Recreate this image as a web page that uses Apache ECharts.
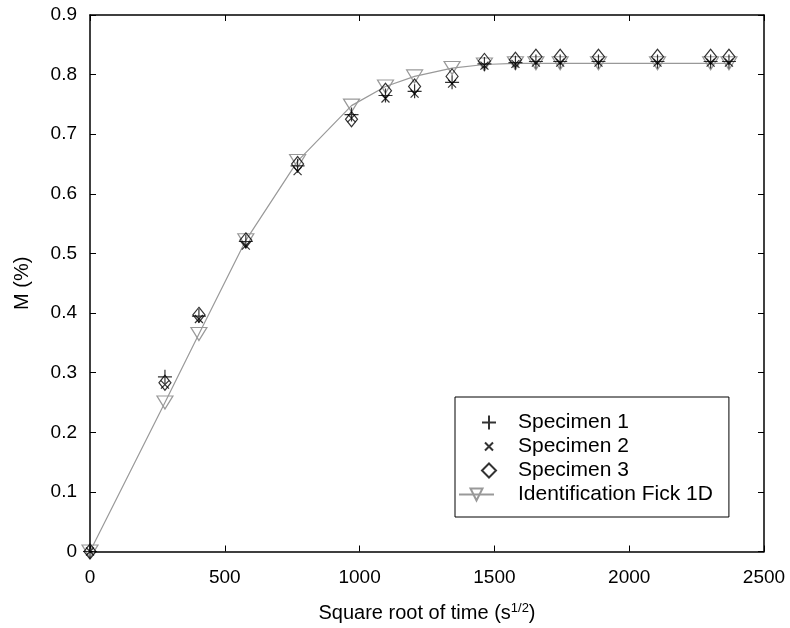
<!DOCTYPE html>
<html>
<head>
<meta charset="utf-8">
<script src="https://cdn.jsdelivr.net/npm/echarts@6/dist/echarts.min.js"></script>
<style>
html,body{margin:0;padding:0;background:#fff;}
#c{width:790px;height:628px;}
</style>
</head>
<body>
<div id="c"></div>
<script>
var xValues = [0, 278, 404, 578, 770, 970, 1096, 1204, 1343, 1463, 1578, 1654, 1744, 1886, 2105, 2302, 2370];
var specimen1 = [0, 0.293, 0.395, 0.52, 0.647, 0.733, 0.765, 0.772, 0.787, 0.818, 0.82, 0.822, 0.822, 0.822, 0.822, 0.822, 0.822];
var specimen2 = [0, 0.28, 0.39, 0.513, 0.638, 0.727, 0.76, 0.768, 0.785, 0.815, 0.818, 0.82, 0.82, 0.82, 0.82, 0.82, 0.82];
var specimen3 = [0, 0.283, 0.397, 0.522, 0.65, 0.725, 0.773, 0.78, 0.797, 0.823, 0.825, 0.83, 0.83, 0.83, 0.83, 0.83, 0.83];
var fick1D = [0, 0.25, 0.365, 0.522, 0.655, 0.748, 0.78, 0.797, 0.811, 0.817, 0.819, 0.819, 0.819, 0.819, 0.819, 0.819, 0.819];
var seriesNames = ['Specimen 1', 'Specimen 2', 'Specimen 3', 'Identification Fick 1D'];

function pairs(ys) { return xValues.map(function (x, i) { return [x, ys[i]]; }); }

var FONT = 'Liberation Sans';
var plusPath = 'path://M5,0L5,10M0,5L10,5';
var crossPath = 'path://M0,0L10,10M10,0L0,10';
var crossLegendPath = 'path://M-3,-3L-3,-3M0,0L8,8M8,0L0,8M11,11L11,11';

var chart = echarts.init(document.getElementById('c'));
chart.setOption({
  animation: false,
  backgroundColor: '#fff',
  grid: { left: 90, right: 26, top: 15, bottom: 76, containLabel: false },
  xAxis: [{
    type: 'value', min: 0, max: 2500, interval: 500,
    name: 'Square root of time (s{sup|1/2})',
    nameLocation: 'middle', nameGap: 50,
    nameTextStyle: {
      fontFamily: FONT, fontSize: 20, color: '#000',
      rich: { sup: { fontFamily: FONT, fontSize: 13, color: '#000', verticalAlign: 'top', padding: [0, 0, 10, 0] } }
    },
    axisLine: { show: true, onZero: false, lineStyle: { color: '#000', width: 1.5 } },
    axisTick: { show: true, inside: true, length: 6, lineStyle: { color: '#000' } },
    axisLabel: { fontFamily: FONT, fontSize: 19, color: '#000', margin: 17,
      formatter: function (v) { return String(v); } },
    splitLine: { show: false }
  }, {
    type: 'value', min: 0, max: 2500, interval: 500, position: 'top',
    axisLine: { show: true, onZero: false, lineStyle: { color: '#000', width: 1.5 } },
    axisTick: { show: true, inside: true, length: 6, lineStyle: { color: '#000' } },
    axisLabel: { show: false }, splitLine: { show: false }
  }],
  yAxis: [{
    type: 'value', min: 0, max: 0.9, interval: 0.1,
    name: 'M (%)', nameLocation: 'middle', nameGap: 58, nameRotate: 90,
    nameTextStyle: { fontFamily: FONT, fontSize: 20, color: '#000' },
    axisLine: { show: true, onZero: false, lineStyle: { color: '#000', width: 1.5 } },
    axisTick: { show: true, inside: true, length: 6, lineStyle: { color: '#000' } },
    axisLabel: { fontFamily: FONT, fontSize: 19, color: '#000', margin: 13 },
    splitLine: { show: false }
  }, {
    type: 'value', min: 0, max: 0.9, interval: 0.1, position: 'right',
    axisLine: { show: true, onZero: false, lineStyle: { color: '#000', width: 1.5 } },
    axisTick: { show: true, inside: true, length: 6, lineStyle: { color: '#000' } },
    axisLabel: { show: false }, splitLine: { show: false }
  }],
  legend: [{
    orient: 'vertical',
    left: 455, top: 397,
    padding: [15 + 3 * 24, 16, 12, 3],
    itemGap: 3,
    itemWidth: 35, itemHeight: 15,
    borderColor: '#000', borderWidth: 1,
    backgroundColor: '#fff',
    z: 4,
    textStyle: { fontFamily: FONT, fontSize: 21, color: '#000', padding: [0, 0, 0, 19] },
    data: [seriesNames[3]]
  }, {
    orient: 'vertical',
    left: 455, top: 397,
    padding: [15, 10, 10, 26],
    itemGap: 3,
    itemWidth: 14, itemHeight: 14,
    borderWidth: 0,
    backgroundColor: 'rgba(0,0,0,0)',
    z: 5,
    textStyle: { fontFamily: FONT, fontSize: 21, color: '#000', padding: [0, 0, 0, 17] },
    data: [
      { name: seriesNames[0] },
      { name: seriesNames[1], icon: crossLegendPath },
      { name: seriesNames[2] }
    ]
  }],
  series: [{
    name: seriesNames[3], type: 'line', data: pairs(fick1D), z: 1,
    symbol: 'triangle', symbolRotate: 180, symbolSize: [16, 13], showAllSymbol: true,
    lineStyle: { color: '#999', width: 1.2 },
    itemStyle: { color: 'rgba(255,255,255,0)', borderColor: '#999', borderWidth: 1.2 }
  }, {
    name: seriesNames[0], type: 'scatter', data: pairs(specimen1), z: 3,
    symbol: plusPath, symbolSize: 14,
    itemStyle: { color: 'rgba(0,0,0,0)', borderColor: '#000', borderWidth: 1.2 }
  }, {
    name: seriesNames[1], type: 'scatter', data: pairs(specimen2), z: 3,
    symbol: crossPath, symbolSize: 8,
    itemStyle: { color: 'rgba(0,0,0,0)', borderColor: '#000', borderWidth: 1.2 }
  }, {
    name: seriesNames[2], type: 'scatter', data: pairs(specimen3), z: 3,
    symbol: 'diamond', symbolSize: [12, 15],
    itemStyle: { color: 'rgba(0,0,0,0)', borderColor: '#000', borderWidth: 1.2 }
  }]
});
</script>
</body>
</html>
